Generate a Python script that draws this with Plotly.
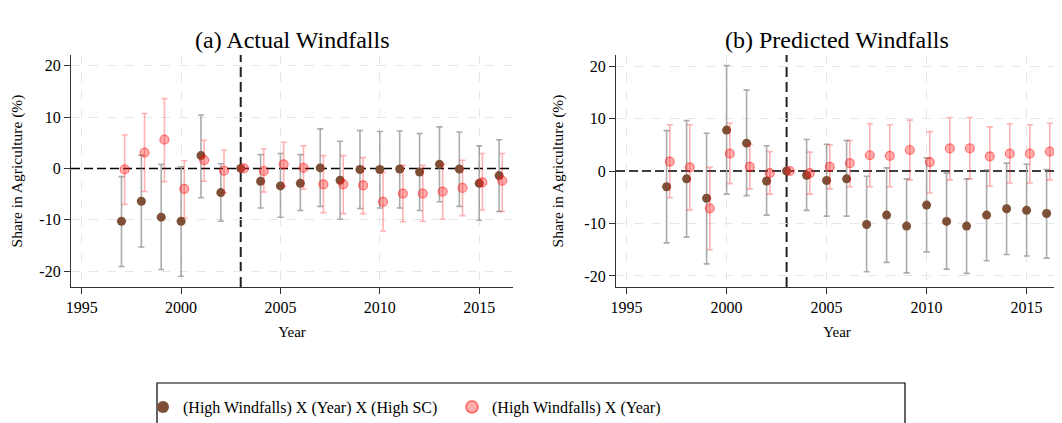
import plotly.graph_objects as go

years = list(range(1997, 2017))

# Panel (a) Actual Windfalls
a_sc = [-10.3, -6.4, -9.5, -10.3, 2.5, -4.7, 0.0, -2.5, -3.4, -2.9, 0.1, -2.3, -0.2, -0.2, -0.1, -0.7, 0.8, -0.1, -2.9, -1.4]
a_sc_hi = [-1.6, 2.6, 0.8, 0.3, 10.4, 0.9, None, 2.7, 2.9, 2.7, 7.7, 5.3, 7.4, 7.2, 7.3, 6.8, 8.1, 7.1, 4.4, 5.6]
a_sc_lo = [-19.1, -15.3, -19.7, -21.0, -5.7, -10.3, None, -7.7, -9.5, -8.2, -7.4, -9.9, -7.8, -7.7, -7.7, -8.2, -6.5, -7.4, -10.1, -8.4]
a_yr = [-0.2, 3.1, 5.6, -4.0, 1.6, -0.45, 0.0, -0.5, 0.8, 0.1, -3.1, -3.1, -3.3, -6.5, -4.9, -4.9, -4.5, -3.8, -2.7, -2.4]
a_yr_hi = [6.5, 10.7, 13.6, 1.5, 5.5, 3.6, None, 3.8, 5.1, 4.4, 2.5, 2.5, 2.1, -0.8, 0.6, 0.6, 0.8, 1.6, 2.9, 2.9]
a_yr_lo = [-7.0, -4.5, -2.6, -9.6, -2.5, -4.7, None, -4.6, -3.5, -4.0, -8.6, -8.8, -8.8, -12.2, -10.4, -10.3, -9.9, -9.2, -8.1, -8.4]

# Panel (b) Predicted Windfalls
b_sc = [-3.0, -1.5, -5.2, 7.8, 5.3, -1.9, 0.0, -0.8, -1.8, -1.5, -10.2, -8.4, -10.5, -6.5, -9.6, -10.5, -8.4, -7.2, -7.5, -8.1]
b_sc_hi = [7.7, 9.6, 7.2, 20.1, 15.4, 4.8, None, 6.0, 5.1, 5.8, -1.0, 0.6, -1.5, 2.5, -0.4, -1.5, 0.2, 1.5, 1.3, 0.3]
b_sc_lo = [-13.7, -12.6, -17.7, -4.4, -4.7, -8.4, None, -7.5, -8.6, -8.6, -19.2, -17.4, -19.4, -15.4, -18.7, -19.5, -17.1, -15.9, -16.2, -16.6]
b_yr = [1.8, 0.7, -7.1, 3.3, 0.8, -0.4, 0.0, -0.4, 0.8, 1.5, 3.0, 2.9, 4.0, 1.7, 4.3, 4.3, 2.8, 3.3, 3.3, 3.7]
b_yr_hi = [8.8, 8.8, 0.7, 9.1, 5.1, 3.7, None, 3.6, 5.0, 5.8, 9.0, 8.8, 9.7, 7.5, 10.2, 10.2, 8.4, 9.0, 8.8, 9.1]
b_yr_lo = [-5.1, -7.4, -15.0, -2.4, -3.4, -4.4, None, -4.4, -3.4, -3.0, -3.0, -3.0, -1.7, -4.2, -1.7, -1.5, -2.9, -2.3, -2.3, -1.7]

series_names = ["(High Windfalls) X (Year) X (High SC)", "(High Windfalls) X (Year)"]
panel_titles = ["(a) Actual Windfalls", "(b) Predicted Windfalls"]
x_ticks = [1995, 2000, 2005, 2010, 2015]
y_ticks = [-20, -10, 0, 10, 20]
y_ticklabels = ["-20", "-10", "0", "10", "20"]
y_gridvals = [-20, -10, 10, 20]
x_title = "Year"
y_title = "Share in Agriculture (%)"
event_year = 2003
red_offset = 0.16

BROWN = "#7E4F37"
GRAY_CI = "rgba(120,120,120,0.62)"
RED_FILL = "rgba(255,40,40,0.38)"
RED_LINE = "rgba(255,0,0,0.45)"
RED_CI = "rgba(255,0,0,0.3)"
FONT = "Liberation Serif"
GRID = "#e6e6e6"


def err(vals, hi, lo):
    plus = [0 if h is None else h - v for v, h in zip(vals, hi)]
    minus = [0 if l is None else v - l for v, l in zip(vals, lo)]
    return plus, minus


fig = go.Figure()
panels = [(a_sc, a_sc_hi, a_sc_lo, a_yr, a_yr_hi, a_yr_lo, "x", "y"),
          (b_sc, b_sc_hi, b_sc_lo, b_yr, b_yr_hi, b_yr_lo, "x2", "y2")]
for i, (sc, sch, scl, yr, yrh, yrl, xa, ya) in enumerate(panels):
    p, m = err(sc, sch, scl)
    fig.add_trace(go.Scatter(
        x=years, y=sc, mode="markers", xaxis=xa, yaxis=ya,
        name=series_names[0], showlegend=(i == 0), legendrank=1,
        marker=dict(color=BROWN, size=9, line=dict(width=0)),
        error_y=dict(type="data", symmetric=False, array=p, arrayminus=m,
                     color=GRAY_CI, thickness=1.6, width=3)))
    p2, m2 = err(yr, yrh, yrl)
    fig.add_trace(go.Scatter(
        x=[y + red_offset for y in years], y=yr, mode="markers", xaxis=xa, yaxis=ya,
        name=series_names[1], showlegend=(i == 0), legendrank=2,
        marker=dict(color=RED_FILL, size=9, line=dict(width=1.2, color=RED_LINE)),
        error_y=dict(type="data", symmetric=False, array=p2, arrayminus=m2,
                     color=RED_CI, thickness=1.6, width=3)))

# The page body adds an 8px offset: figure coords = window coords - 8
OFF = 8
W, H = 1062 - OFF, 423 - OFF
ml, mr, mt, mb = 71 - OFF, 4, 55 - OFF, 136
pw = W - ml - mr
ph = H - mt - mb
dom_a = [0, (513 - 71) / pw]
dom_b = [(616 - 71) / pw, 1]


def px(wx):
    return (wx - OFF - ml) / pw


def py(wy):
    return (H - mb - (wy - OFF)) / ph


axis_common = dict(showline=True, linecolor="#333333", linewidth=1.3,
                   ticks="outside", ticklen=6, tickcolor="#333333", tickwidth=1.2,
                   zeroline=False, mirror=False,
                   tickfont=dict(family=FONT, size=16, color="black"))
xgrid = dict(showgrid=True, gridcolor=GRID, griddash="dash", gridwidth=1)
ygrid = dict(showgrid=False,
             minor=dict(tickvals=y_gridvals, showgrid=True, gridcolor=GRID, griddash="dash",
                        gridwidth=1, ticks=""))

fig.update_layout(
    width=W, height=H,
    margin=dict(l=ml, r=mr, t=mt, b=mb, autoexpand=False),
    paper_bgcolor="white", plot_bgcolor="white",
    font=dict(family=FONT, color="black"),
    xaxis=dict(domain=dom_a, range=[1994.46, 2016.7], tickvals=x_ticks, anchor="y",
               title=dict(text=x_title, font=dict(size=15), standoff=11), **axis_common, **xgrid),
    yaxis=dict(domain=[0, 1], range=[-23.1, 22.1], tickvals=y_ticks, ticktext=y_ticklabels,
               anchor="x", title=dict(text=y_title, font=dict(size=15.5), standoff=16), **axis_common, **ygrid),
    xaxis2=dict(domain=dom_b, range=[1994.47, 2016.57], tickvals=x_ticks, anchor="y2",
                title=dict(text=x_title, font=dict(size=15), standoff=11), **axis_common, **xgrid),
    yaxis2=dict(domain=[0, 1], range=[-22.1, 22.1], tickvals=y_ticks, ticktext=y_ticklabels,
                anchor="x2", title=dict(text=y_title, font=dict(size=15.5), standoff=16), **axis_common, **ygrid),
    showlegend=True,
    legend=dict(orientation="h", x=px(143), xanchor="left", y=py(390), yanchor="top",
                font=dict(family=FONT, size=16, color="black"), bgcolor="rgba(0,0,0,0)",
                borderwidth=0, entrywidth=264, itemsizing="constant", traceorder="normal"),
)

shapes = []
for xa, ya in [("x", "y"), ("x2", "y2")]:
    shapes.append(dict(type="line", xref=f"{xa} domain", yref=ya, x0=0, x1=1, y0=0, y1=0,
                       line=dict(color="black", width=1.5, dash="9px,4px"), layer="below"))
    shapes.append(dict(type="line", xref=xa, yref=f"{ya} domain", x0=event_year, x1=event_year, y0=0, y1=1,
                       line=dict(color="#222222", width=2, dash="10px,5px"), layer="below"))
# legend frame
shapes.append(dict(type="rect", xref="paper", yref="paper",
                   x0=px(157), x1=px(905), y0=py(430), y1=py(383),
                   line=dict(color="black", width=1.2), fillcolor="rgba(0,0,0,0)", layer="above"))
fig.update_layout(shapes=shapes)

for t, dom in zip(panel_titles, [dom_a, dom_b]):
    fig.add_annotation(text=t, xref="paper", yref="paper", x=(dom[0] + dom[1]) / 2, y=py(40),
                       xanchor="center", yanchor="middle", showarrow=False,
                       font=dict(family=FONT, size=24, color="black"))

fig.write_html("out.html")
